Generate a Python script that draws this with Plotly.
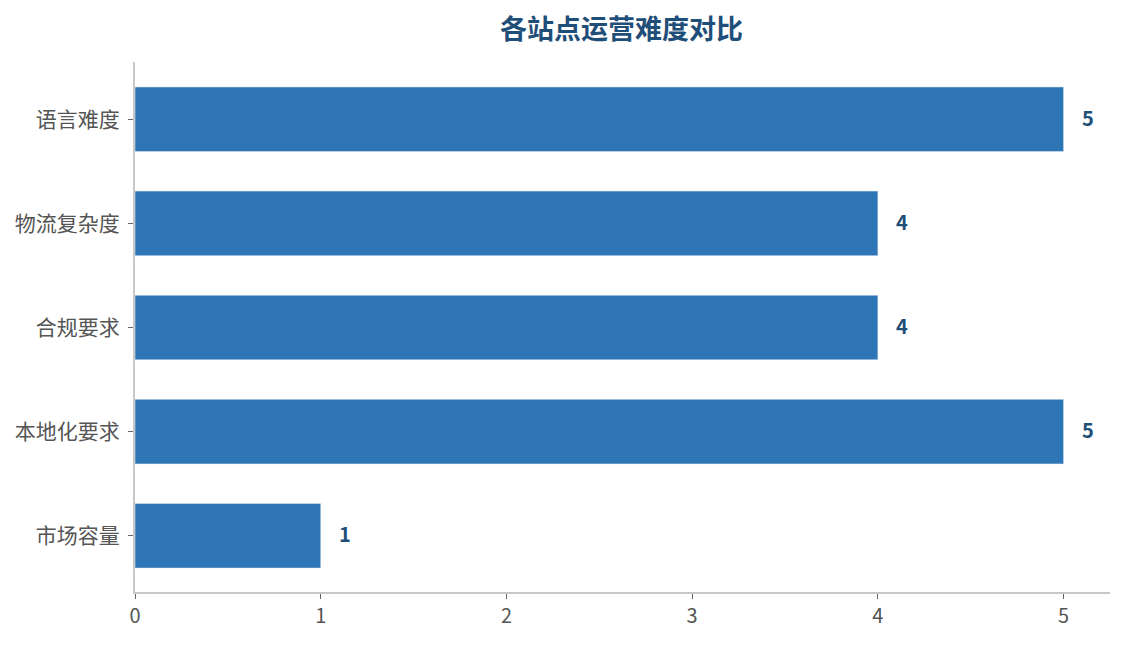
import plotly.graph_objects as go

categories = ['语言难度', '物流复杂度', '合规要求', '本地化要求', '市场容量']
scores = [5, 4, 4, 5, 1]

BAR = '#2E75B6'
DARK = '#1F4E79'
FONT = 'Microsoft YaHei, Noto Sans CJK SC, sans-serif'

fig = go.Figure(go.Bar(
    x=scores,
    y=categories,
    orientation='h',
    marker_color=BAR,
    width=0.62,
    hoverinfo='x+y',
))

# value labels to the right of each bar
for cat, val in zip(categories, scores):
    fig.add_annotation(
        x=val, y=cat, text=f'<b>{val}</b>', showarrow=False,
        xanchor='left', xshift=16, yshift=2,
        font=dict(family=FONT, size=20, color=DARK),
    )

# the page puts the figure 8px in from the top-left corner
fig.update_layout(
    width=1125, height=645,
    margin=dict(l=127, r=23, t=54, b=61),
    paper_bgcolor='white', plot_bgcolor='white',
    font=dict(family=FONT, size=18, color='#555555'),
    title=dict(
        text='<b>各站点运营难度对比</b>', x=0.5453, xanchor='center',
        y=0.966, yanchor='middle',
        font=dict(family=FONT, size=27, color=DARK),
    ),
    showlegend=False,
)
fig.update_xaxes(
    range=[0, 5.25], tickvals=[0, 1, 2, 3, 4, 5],
    showgrid=False, zeroline=False, automargin=False,
    showline=True, linecolor='#C8C8C8', linewidth=2,
    ticks='outside', ticklen=5, tickcolor='#666666', tickwidth=1,
    tickfont=dict(size=20, color='#555555'),
)
fig.update_yaxes(
    range=[4.54, -0.55],
    showgrid=False, zeroline=False, automargin=False,
    showline=True, linecolor='#C8C8C8', linewidth=2,
    ticks='outside', ticklen=5, tickcolor='#666666', tickwidth=1,
    ticklabelstandoff=4,
    tickfont=dict(size=21, color='#555555'),
)

fig.write_html('out.html')
